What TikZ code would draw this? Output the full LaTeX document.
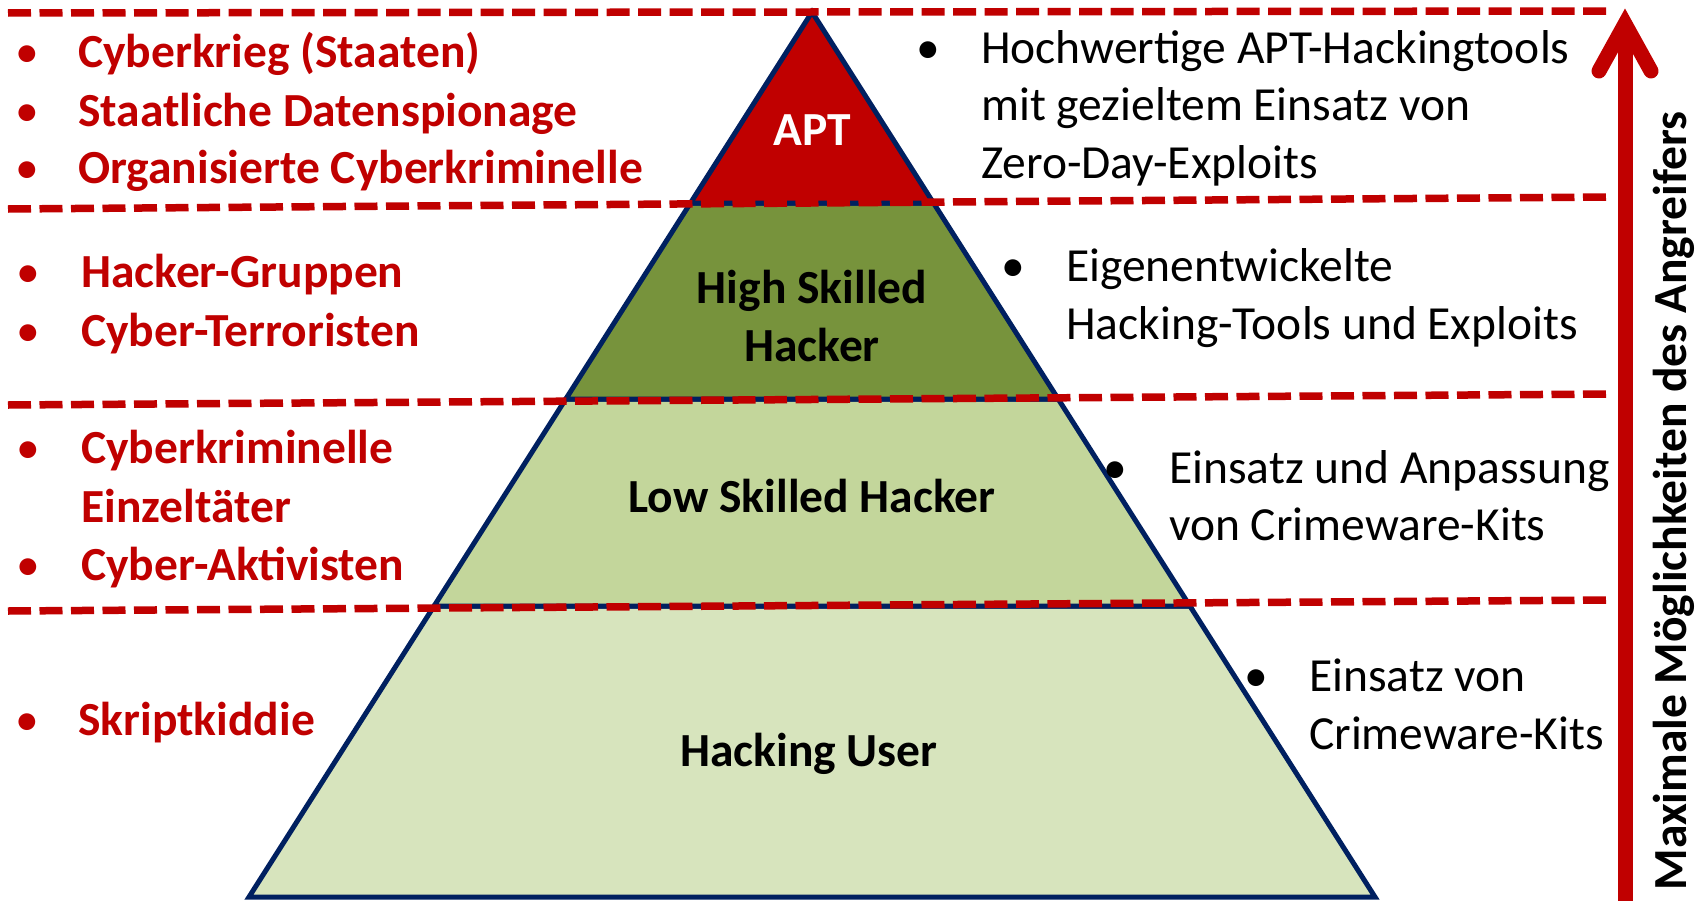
\documentclass[tikz,border=0pt]{standalone}
\usepackage{fontspec}
\setmainfont{Carlito}
\definecolor{hred}{HTML}{C00000}
\definecolor{tierolive}{HTML}{77933C}
\definecolor{tierlight}{HTML}{C3D69B}
\definecolor{tierpale}{HTML}{D7E4BD}
\definecolor{navy}{HTML}{002060}
\newcommand{\txtsize}{\fontsize{47.5bp}{57.5bp}\selectfont}
\tikzset{
  tier/.style={draw=navy, line width=5bp, line join=miter},
  sep/.style={draw=hred, line width=7.5bp, dash pattern=on 23bp off 8.5bp},
  redline/.style={inner sep=0pt, anchor=base west, text=hred, font=\txtsize\bfseries},
  redbullet/.style={inner sep=0pt, anchor=base, text=hred, font=\txtsize},
  blkline/.style={inner sep=0pt, anchor=base west, text=black, font=\txtsize},
  blkbullet/.style={inner sep=0pt, anchor=base, text=black, font=\txtsize},
  tierlabel/.style={inner sep=0pt, anchor=base, font=\txtsize\bfseries},
}
\begin{document}
\begin{tikzpicture}[x=1bp, y=-1bp]
\useasboundingbox (0,0) rectangle (1702,900);

% pyramid corners
\coordinate (apex) at (812,12);
\coordinate (l1) at (690.5,203);  \coordinate (r1) at (933.5,203);
\coordinate (l2) at (565.8,399);  \coordinate (r2) at (1058.2,399);
\coordinate (l3) at (434.1,606);  \coordinate (r3) at (1189.9,606);
\coordinate (l4) at (249,897);    \coordinate (r4) at (1375,897);

% pyramid tiers
\path[tier, fill=tierpale]  (l3) -- (r3) -- (r4) -- (l4) -- cycle;
\path[tier, fill=tierlight] (l2) -- (r2) -- (r3) -- (l3) -- cycle;
\path[tier, fill=tierolive] (l1) -- (r1) -- (r2) -- (l2) -- cycle;
\path[tier, fill=hred]      (apex) -- (r1) -- (l1) -- cycle;

% dashed level separators
\coordinate (s1a) at (8,13);   \coordinate (s1b) at (1613,11);
\coordinate (s2a) at (8,209);  \coordinate (s2b) at (1613,197);
\coordinate (s3a) at (8,405);  \coordinate (s3b) at (1613,394);
\coordinate (s4a) at (8,611);  \coordinate (s4b) at (1613,600);
\draw[sep] (s1a) -- (s1b);
\draw[sep] (s2a) -- (s2b);
\draw[sep] (s3a) -- (s3b);
\draw[sep] (s4a) -- (s4b);

% vertical arrow
\coordinate (arrbot) at (1625,905);
\coordinate (arrtip) at (1625,24);
\coordinate (barbl) at (1599,71);
\coordinate (barbr) at (1651,71);
\draw[hred, line width=15bp] (arrbot) -- (arrtip);
\draw[hred, line width=15bp, line cap=round, line join=miter] (barbl) -- (arrtip) -- (barbr);
\node[inner sep=0pt, anchor=base, rotate=90, font=\txtsize\bfseries] (axis) at (1686,501)
  {Maximale Möglichkeiten des Angreifers};

% tier labels
\node[tierlabel, text=white] (apt) at (812,145) {APT};
\node[tierlabel] (high1) at (812,303) {High Skilled};
\node[tierlabel] (high2) at (812,361) {Hacker};
\node[tierlabel] (low) at (812,512) {Low Skilled Hacker};
\node[tierlabel] (user) at (809,766) {Hacking User};

% attacker groups (left)
\node[redbullet] (lb1) at (27,67) {•};
\node[redline] (lt1) at (78,67) {Cyberkrieg (Staaten)};
\node[redbullet] (lb2) at (27,126) {•};
\node[redline] (lt2) at (78,126) {Staatliche Datenspionage};
\node[redbullet] (lb3) at (27,183) {•};
\node[redline] (lt3) at (78,183) {Organisierte Cyberkriminelle};

\node[redbullet] (lb4) at (28,287) {•};
\node[redline] (lt4) at (81,287) {Hacker-Gruppen};
\node[redbullet] (lb5) at (28,346) {•};
\node[redline] (lt5) at (81,346) {Cyber-Terroristen};

\node[redbullet] (lb6) at (28,463) {•};
\node[redline] (lt6) at (81,463) {Cyberkriminelle};
\node[redline] (lt7) at (81,522) {Einzeltäter};
\node[redbullet] (lb7) at (28,580) {•};
\node[redline] (lt8) at (81,580) {Cyber-Aktivisten};

\node[redbullet] (lb8) at (27,735) {•};
\node[redline] (lt9) at (78,735) {Skriptkiddie};

% tools (right)
\node[blkbullet] (rb1) at (928,63) {•};
\node[blkline] (rt1) at (981,63) {Hochwertige APT-Hackingtools};
\node[blkline] (rt2) at (981,120) {mit gezieltem Einsatz von};
\node[blkline] (rt3) at (981,178) {Zero-Day-Exploits};

\node[blkbullet] (rb2) at (1013,281) {•};
\node[blkline] (rt4) at (1066,281) {Eigenentwickelte};
\node[blkline] (rt5) at (1066,339) {Hacking-Tools und Exploits};

\node[blkbullet] (rb3) at (1115,483) {•};
\node[blkline] (rt6) at (1169,483) {Einsatz und Anpassung};
\node[blkline] (rt7) at (1169,540) {von Crimeware-Kits};

\node[blkbullet] (rb4) at (1256,691) {•};
\node[blkline] (rt8) at (1309,691) {Einsatz von};
\node[blkline] (rt9) at (1309,749) {Crimeware-Kits};
\end{tikzpicture}
\end{document}
